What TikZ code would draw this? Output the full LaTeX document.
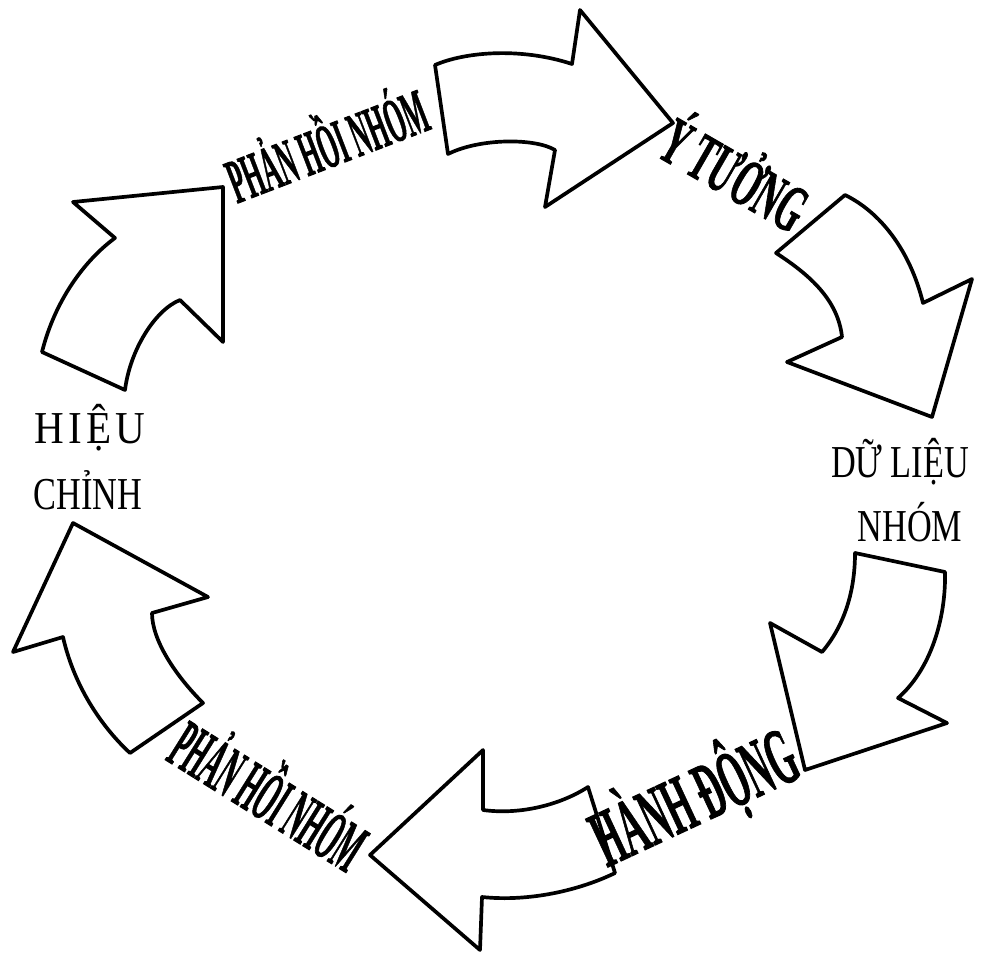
\documentclass[tikz,border=0pt]{standalone}
\usepackage{fontspec}
\usepackage{graphicx}
\setmainfont{Liberation Serif}
\newfontfamily\heavyfont[FakeBold=1.5]{Liberation Serif}
\newfontfamily\spacedfont[LetterSpace=10]{Liberation Serif}
\usepackage{tikz}

\newcommand{\squeeze}[2]{\scalebox{#1}[1]{#2}}

\begin{document}
\begin{tikzpicture}[
          x=0.02cm, y=-0.02cm,
          blockarrow/.style={draw, line width=2.1pt, line join=round, fill=white},
          bent/.style={inner sep=0pt},
          flat/.style={font=\fontsize{26}{30}\selectfont, inner sep=0pt}
        ]
          \useasboundingbox (0,0) rectangle (982,956);

          % arrows, clockwise from the top
          \draw[blockarrow] (435,65) .. controls (465,52) and (520,47) .. (572,64)
            -- (580,10) -- (673,123) -- (545,207) -- (555,150)
            .. controls (535,138) and (480,138) .. (448,154) -- cycle;
          \draw[blockarrow] (845,195) .. controls (880,212) and (910,250) .. (923,303)
            -- (972,279) -- (932,417) -- (787,362) -- (842,337)
            .. controls (838,300) and (810,275) .. (776,253) -- cycle;
          \draw[blockarrow] (855,553) -- (945,572) .. controls (946,620) and (930,670) .. (898,698)
            -- (947,723) -- (805,770) -- (770,623) -- (822,652)
            .. controls (845,625) and (855,590) .. (855,553) -- cycle;
          \draw[blockarrow] (588,787) -- (615,873) .. controls (580,890) and (530,902) .. (482,897)
            -- (480,950) -- (370,855) -- (483,750) -- (483,810)
            .. controls (520,815) and (560,805) .. (588,787) -- cycle;
          \draw[blockarrow] (130,753) -- (203,703) .. controls (175,675) and (152,640) .. (152,613)
            -- (208,597) -- (73,523) -- (13,652) -- (63,637)
            .. controls (75,690) and (105,730) .. (130,753) -- cycle;
          \draw[blockarrow] (73,202) -- (223,187) -- (223,342) -- (180,300)
            .. controls (155,310) and (130,350) .. (125,390) -- (42,352)
            .. controls (55,300) and (85,260) .. (115,238) -- cycle;

          % labels
          \node[bent, rotate=21, font=\heavyfont\bfseries\fontsize{36}{36}\selectfont] (fbtop) at (325,140) {\squeeze{0.39}{PHẢN HỒI NHÓM}};
          \node[bent, rotate=-30, font=\heavyfont\bfseries\fontsize{38}{38}\selectfont] (idea) at (737,170) {\squeeze{0.5}{Ý TƯỞNG}};
          \node[flat] (data1) at (900,462) {\squeeze{0.75}{DỮ LIỆU}};
          \node[flat] (data2) at (910,522) {\squeeze{0.75}{NHÓM}};
          \node[bent, rotate=25, font=\heavyfont\bfseries\fontsize{46}{46}\selectfont] (act) at (694,797) {\squeeze{0.43}{HÀNH ĐỘNG}};
          \node[bent, rotate=-32, font=\heavyfont\bfseries\fontsize{40}{40}\selectfont] (fbbot) at (272,790) {\squeeze{0.36}{PHẢN HỒI NHÓM}};
          \node[flat] (fix1) at (90,428) {\squeeze{0.9}{\spacedfont HIỆU}};
          \node[flat] (fix2) at (88,490) {\squeeze{0.75}{CHỈNH}};
        \end{tikzpicture}
\end{document}
